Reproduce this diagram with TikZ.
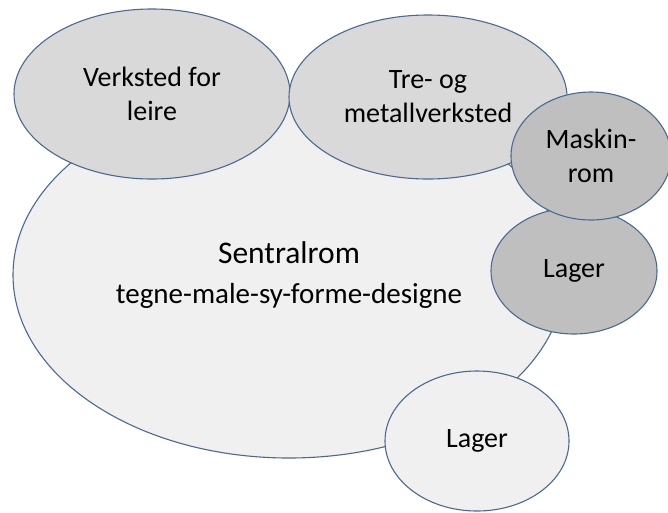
\documentclass[tikz,border=0pt]{standalone}
\usepackage{fontspec}
\setmainfont{Carlito}
\usetikzlibrary{shapes.geometric}
\definecolor{rimblue}{RGB}{74,106,148}
\definecolor{paleroom}{RGB}{240,240,240}
\definecolor{midroom}{RGB}{217,217,217}
\definecolor{darkroom}{RGB}{191,191,191}
\tikzset{%
            room/.style = {ellipse, draw=rimblue, line width=1.1pt,
                           inner sep=0pt, text centered, align=center,
                           font=\fontsize{28}{34}\selectfont},
  room0/.style = {room, fill=paleroom},
  room1/.style = {room, fill=midroom},
  room2/.style = {room, fill=darkroom},
}
\begin{document}
\begin{tikzpicture}[x=1pt, y=1pt]
  \useasboundingbox (0,0) rectangle (668,-512);

  \node (onSentral) [room0, minimum width=552pt, minimum height=366pt,
                     font=\fontsize{29}{40}\selectfont] at (289,-275)
        {{\fontsize{31.5}{40}\selectfont Sentralrom}\\tegne-male-sy-forme-designe};
  \node (onLeire)   [room1, minimum width=276pt, minimum height=170pt] at (152,-94)
        {Verksted for\\leire};
  \node (onTre)     [room1, minimum width=278pt, minimum height=164pt] at (428,-97)
        {Tre- og\\metallverksted};
  \node (onLager1)  [room2, minimum width=166pt, minimum height=126pt] at (574,-271)
        {Lager};
  \node (onMaskin)  [room2, minimum width=160pt, minimum height=128pt] at (591,-156)
        {Maskin-\\rom};
  \node (onLager2)  [room0, minimum width=184pt, minimum height=140pt] at (477,-441)
        {Lager};
\end{tikzpicture}
\end{document}
